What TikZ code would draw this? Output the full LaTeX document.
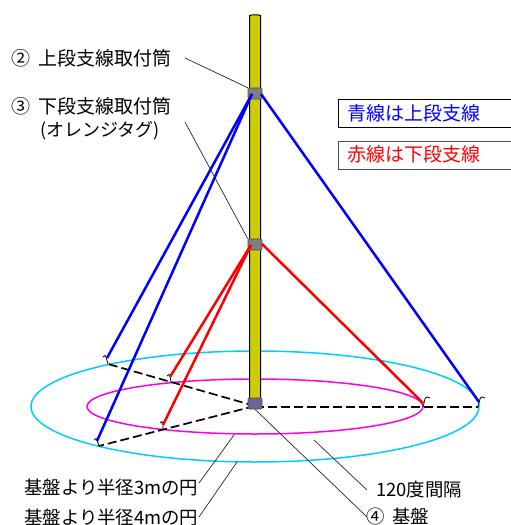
\documentclass[tikz,border=0pt]{standalone}
\usepackage{fontspec}
\setmainfont{Noto Sans CJK JP}
\newcommand{\biglab}{\fontsize{19}{21}\selectfont}
\newcommand{\lowlab}{\fontsize{18.4}{20}\selectfont}
\begin{document}
\begin{tikzpicture}[x=1pt,y=-1pt,
  lab/.style={inner sep=0pt,font=\biglab,anchor=west},
  lowl/.style={inner sep=0pt,font=\lowlab,anchor=west},
  lead/.style={draw=black!85,line width=0.7pt},
  upper/.style={draw=blue,line width=2.5pt},
  lower/.style={draw=red,line width=2.5pt},
  dashline/.style={draw=black,line width=1.7pt,dash pattern=on 9pt off 4pt},
  hookline/.style={draw=black,line width=0.8pt},
  collar/.style={draw=black!70,line width=0.6pt,minimum width=14pt,minimum height=11pt,inner sep=0pt,rounded corners=1pt},
  legend/.style={draw=black,line width=0.8pt,fill=white,minimum width=180pt,minimum height=28pt,inner sep=0pt,anchor=north west}]
\useasboundingbox (0,0) rectangle (511,525);
\clip (0,0) rectangle (511,525);
\draw[draw={rgb,255:red,0;green,204;blue,255},line width=1.5pt] (255,406.5) ellipse [x radius=224,y radius=55.5];
\draw[draw={rgb,255:red,255;green,0;blue,230},line width=1.5pt] (255,406.5) ellipse [x radius=168,y radius=27.5];
% pole
\filldraw[fill={rgb,255:red,204;green,204;blue,0},draw=black,line width=1pt] (249.5,400) -- (249.5,15.5) .. controls (252,14.5) and (258,14.5) .. (260.5,15.5) -- (260.5,400) -- cycle;
% anchors
\coordinate (hub) at (255,406); \coordinate (hubr) at (255,407);
\coordinate (a1) at (108,364); \coordinate (a2) at (99,446); \coordinate (a3) at (478,407);
\coordinate (t1) at (107,358); \coordinate (t2) at (97,441); \coordinate (t3) at (479,402);
\coordinate (r1) at (170,377); \coordinate (r2) at (163,425); \coordinate (r3) at (423,403);
\coordinate (b1) at (171,382); \coordinate (b2) at (163,429); \coordinate (b3) at (423,407);
% ground dashes
\draw[dashline] (hub) -- (a1);
\draw[dashline] (hub) -- (a2);
\draw[dashline] (hubr) -- (a3);
% collars
\node[collar,fill=black!50] (upc) at (255,93.5) {};
\node[collar,fill=black!50] (loc) at (255,244.5) {};
\node[collar,fill={rgb,255:red,102;green,102;blue,153}] (base) at (255,403.5) {};
% hooks
\draw[hookline] (a1) -- (106,357) -- (105,355.5) -- (103,357);
\draw[hookline] (a2) -- (97,440) -- (96,438.5) -- (94,440);
\draw[hookline] (a3) -- (480,399) .. controls (481,396) and (483,397) .. (485,398);
\draw[hookline] (b1) -- (170,376) -- (169,374.5) -- (167,376);
\draw[hookline] (b2) -- (163,424) -- (162,421.5) -- (160,423);
\draw[hookline] (b3) -- (425,399) .. controls (426,396) and (428,397) .. (430,398);
% stays
\coordinate (ul) at (252,94); \coordinate (ur) at (261,94);
\coordinate (ll) at (251,245); \coordinate (lr) at (262,244);
\draw[upper] (ul) -- (t1);
\draw[upper] (ul) -- (t2);
\draw[upper] (ur) -- (t3);
\draw[lower] (ll) -- (r1);
\draw[lower] (ll) -- (r2);
\draw[lower] (lr) -- (r3);
% labels
\node[lab] (l2) at (11,58) {②\hspace{8pt}上段支線取付筒};
\node[lab] (l3) at (11,106) {③\hspace{8pt}下段支線取付筒};
\node[inner sep=0pt,font=\fontsize{18}{20}\selectfont,anchor=west] (l3b) at (40,131) {(オレンジタグ)};
\node[lowl] (l3m) at (24,487) {基盤より半径3mの円};
\node[lowl] (l4m) at (24,517) {基盤より半径4mの円};
\node[lowl] (l120) at (376,490) {120度間隔};
\node[lowl] (l4) at (366,517) {④\hspace{8pt}基盤};
% leads
\coordinate (e3m) at (234,435); \coordinate (e4m) at (237,462); \coordinate (e120) at (314,440);
\coordinate (s2) at (185,58); \coordinate (s3) at (185,122); \coordinate (s3m) at (199,483);
\coordinate (s4m) at (199,517); \coordinate (s120) at (367,490); \coordinate (s4) at (367,517);
\draw[lead] (s2) -- (upc.north west);
\draw[lead] (s3) -- (loc.north west);
\draw[lead] (s3m) -- (e3m);
\draw[lead] (s4m) -- (e4m);
\draw[lead] (s120) -- (e120);
\draw[lead] (s4) -- (base.south);
% legend
\node[legend] (lg1) at (338,99) {};
\node[text=blue,font=\biglab,inner sep=0pt,anchor=west] (lt1) at (347,113) {青線は上段支線};
\node[legend,draw=black!70] (lg2) at (338,141) {};
\node[text=red,font=\biglab,inner sep=0pt,anchor=west] (lt2) at (347,154) {赤線は下段支線};
\end{tikzpicture}
\end{document}
